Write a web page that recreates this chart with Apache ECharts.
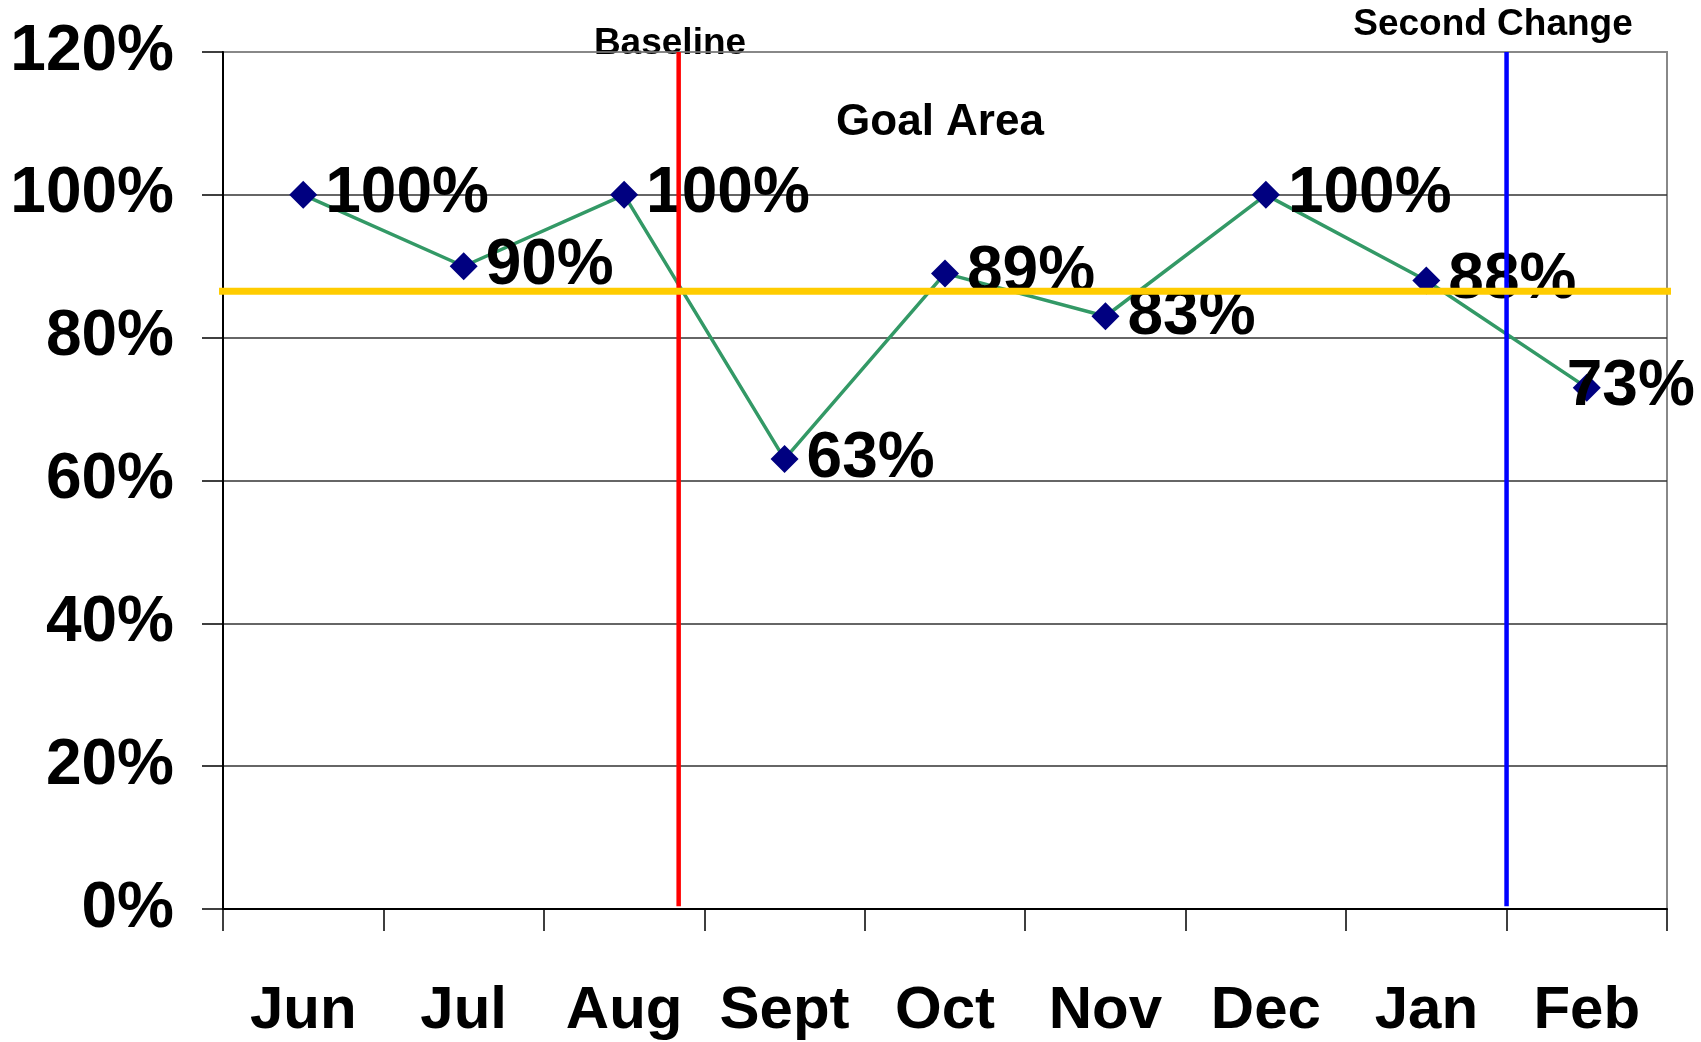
<!DOCTYPE html>
<html>
<head>
<meta charset="utf-8">
<script src="https://cdn.jsdelivr.net/npm/echarts@6/dist/echarts.min.js"></script>
<style>
  html, body { margin: 0; padding: 0; background: #ffffff; }
  #chart { width: 1701px; height: 1042px; }
</style>
</head>
<body>
<div id="chart"></div>
<script>
// Monthly compliance rate
const months = ['Jun', 'Jul', 'Aug', 'Sept', 'Oct', 'Nov', 'Dec', 'Jan', 'Feb'];
const rates = [1.00, 0.90, 1.00, 0.63, 0.89, 0.83, 1.00, 0.88, 0.73];

// Reference lines (x measured in month slots from the left edge of the plot)
const baselineX = 2.84;
const secondChangeX = 8.0;
const goalValue = 0.865;
const goalSpan = [-0.04, 9.21];

// Y axis range
const yMin = 0, yMax = 1.2, yStep = 0.2;

const FONT = "'Liberation Sans', Arial, sans-serif";
const pct = v => Math.round(v * 100) + '%';

const chart = echarts.init(document.getElementById('chart'), null, { renderer: 'canvas' });

// the last point sits at the plot edge, so its label is pulled back over the marker
const lastIdx = rates.length - 1;
const rateData = rates.map((v, i) =>
  i === lastIdx ? { value: v, label: { offset: [-42, 0] } } : v
);

const noteStyle = size => ({
  fontSize: size, fontWeight: 'bold', fontFamily: FONT, fill: '#000',
  align: 'center', verticalAlign: 'middle'
});

chart.setOption({
  animation: false,
  backgroundColor: '#ffffff',
  grid: {
    left: 223, right: 34, top: 52, bottom: 133,
    show: true, borderColor: '#888888', borderWidth: 2, backgroundColor: 'transparent'
  },
  xAxis: [
    {
      type: 'category',
      data: months,
      boundaryGap: true,
      axisLine: { show: true, lineStyle: { color: '#000', width: 2 } },
      axisTick: { show: true, interval: 0, length: 22, lineStyle: { color: '#000', width: 1.5 } },
      axisLabel: {
        interval: 0, margin: 72, fontSize: 60, fontWeight: 'bold', fontFamily: FONT, color: '#000'
      },
      splitLine: { show: false }
    },
    {
      type: 'value', min: 0, max: months.length, show: false
    }
  ],
  yAxis: {
    type: 'value', min: yMin, max: yMax, interval: yStep,
    axisLine: { show: true, lineStyle: { color: '#000', width: 2 } },
    axisTick: { show: true, length: 21, lineStyle: { color: '#000', width: 1.5 } },
    axisLabel: {
      margin: 49, fontSize: 64, fontWeight: 'bold', fontFamily: FONT, color: '#000',
      formatter: pct
    },
    splitLine: {
      show: true,
      lineStyle: { color: ['#333', '#333', '#333', '#333', '#333', '#333', '#888'], width: 1.5 }
    }
  },
  graphic: [
    { type: 'text', style: Object.assign({ text: 'Baseline', x: 670, y: 44 }, noteStyle(37)) },
    { type: 'text', style: Object.assign({ text: 'Goal Area', x: 940, y: 123 }, noteStyle(44)) },
    { type: 'text', style: Object.assign({ text: 'Second Change', x: 1493, y: 25 }, noteStyle(37)) }
  ],
  series: [
    {
      name: 'Rate',
      type: 'line',
      xAxisIndex: 0,
      data: rateData,
      z: 2,
      symbol: 'diamond',
      symbolSize: 28,
      itemStyle: { color: '#000080' },
      lineStyle: { color: '#339966', width: 3.5 },
      label: {
        show: true, position: 'right', distance: 8,
        fontSize: 64, fontWeight: 'bold', fontFamily: FONT, color: '#000',
        formatter: p => pct(p.value)
      }
    },
    {
      name: 'Baseline',
      type: 'line',
      xAxisIndex: 1,
      data: [[baselineX, 0.004], [baselineX, yMax]],
      z: 5, symbol: 'none', silent: true,
      lineStyle: { color: '#ff0000', width: 4.5 }
    },
    {
      name: 'Second Change',
      type: 'line',
      xAxisIndex: 1,
      data: [[secondChangeX, 0.004], [secondChangeX, yMax]],
      z: 5, symbol: 'none', silent: true,
      lineStyle: { color: '#0000ff', width: 4.5 }
    },
    {
      name: 'Goal',
      type: 'line',
      xAxisIndex: 1,
      data: [[goalSpan[0], goalValue], [goalSpan[1], goalValue]],
      z: 6, symbol: 'none', silent: true, clip: false,
      lineStyle: { color: '#ffcc00', width: 7 }
    }
  ]
});
</script>
</body>
</html>
